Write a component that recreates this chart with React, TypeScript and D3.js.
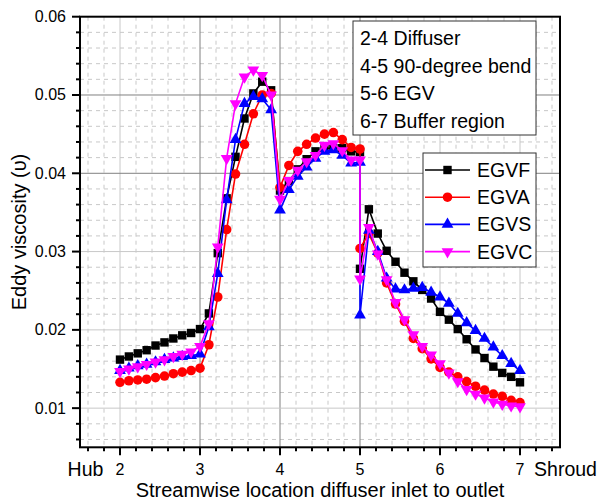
import React from "react";
import * as d3 from "d3";

const xPositions = [2, 2.111, 2.222, 2.333, 2.444, 2.556, 2.667, 2.778, 2.889, 3,
  3.111, 3.222, 3.333, 3.444, 3.556, 3.667, 3.778, 3.889, 4,
  4.111, 4.222, 4.333, 4.444, 4.556, 4.667, 4.778, 4.889, 5, 5,
  5.111, 5.222, 5.333, 5.444, 5.556, 5.667, 5.778, 5.889, 6,
  6.111, 6.222, 6.333, 6.444, 6.556, 6.667, 6.778, 6.889, 7];

const egvf = [0.0162, 0.0166, 0.0170, 0.0174, 0.0180, 0.0184, 0.0189, 0.0193, 0.0196, 0.0201,
  0.0221, 0.0298, 0.0368, 0.0421, 0.0470, 0.0502, 0.0517, 0.0506, 0.0378,
  0.0390, 0.0405, 0.0418, 0.0428, 0.0432, 0.0432, 0.0432, 0.0428, 0.0427, 0.0278,
  0.0354, 0.0323, 0.0301, 0.0287, 0.0273, 0.0262, 0.0251, 0.0240, 0.0223,
  0.0213, 0.0201, 0.0188, 0.0175, 0.0164, 0.0153, 0.0145, 0.0140, 0.0133];

const egva = [0.0133, 0.0135, 0.0136, 0.0137, 0.0139, 0.0141, 0.0144, 0.0146, 0.0148, 0.0151,
  0.0181, 0.0242, 0.0328, 0.0399, 0.0437, 0.0476, 0.0500, 0.0502, 0.0382,
  0.0410, 0.0428, 0.0437, 0.0445, 0.0450, 0.0452, 0.0443, 0.0433, 0.0431, 0.0304,
  0.0323, 0.0298, 0.0260, 0.0233, 0.0211, 0.0189, 0.0176, 0.0163, 0.0152,
  0.0146, 0.0140, 0.0134, 0.0128, 0.0123, 0.0118, 0.0115, 0.0110, 0.0107];

const egvs = [0.0148, 0.0151, 0.0154, 0.0156, 0.0159, 0.0162, 0.0164, 0.0166, 0.0167, 0.0169,
  0.0204, 0.0272, 0.0366, 0.0443, 0.0489, 0.0498, 0.0495, 0.0481, 0.0353,
  0.0379, 0.0396, 0.0408, 0.0419, 0.0428, 0.0430, 0.0423, 0.0413, 0.0414, 0.0219,
  0.0327, 0.0300, 0.0266, 0.0252, 0.0251, 0.0253, 0.0254, 0.0248, 0.0242,
  0.0234, 0.0221, 0.0209, 0.0199, 0.0189, 0.0178, 0.0167, 0.0157, 0.0148];

const egvc = [0.0147, 0.0150, 0.0153, 0.0156, 0.0159, 0.0162, 0.0166, 0.0169, 0.0172, 0.0179,
  0.0208, 0.0306, 0.0419, 0.0489, 0.0523, 0.0532, 0.0525, 0.0500, 0.0367,
  0.0391, 0.0404, 0.0415, 0.0423, 0.0436, 0.0438, 0.0429, 0.0417, 0.0417, 0.0265,
  0.0331, 0.0297, 0.0264, 0.0235, 0.0213, 0.0194, 0.0179, 0.0168, 0.0157,
  0.0145, 0.0134, 0.0124, 0.0118, 0.0113, 0.0108, 0.0105, 0.0103, 0.0102];

const seriesNames = ["EGVF", "EGVA", "EGVS", "EGVC"];
const seriesColors = ["#000000", "#ff0000", "#0000ff", "#ff00ff"];
const seriesShapes = ["square", "circle", "up", "down"];
const seriesValues = [egvf, egva, egvs, egvc];

const xMajorTicks = [2, 3, 4, 5, 6, 7];
const yMajorTicks = [0.01, 0.02, 0.03, 0.04, 0.05, 0.06];
const regionNotes = ["2-4 Diffuser", "4-5 90-degree bend", "5-6 EGV", "6-7 Buffer region"];

const FONT = "Arial, 'Liberation Sans', sans-serif";

const W = 599, H = 504;
const left = 80, right = 560, top = 16.7, bottom = 447.3;

const x = d3.scaleLinear().domain([1.5, 7.5]).range([left, right]);
const y = d3.scaleLinear().domain([0.005, 0.06]).range([bottom, top]);

const darkX = [3, 4, 5];
const darkY = [0.04, 0.05];

function Marker({ shape, cx, cy, color }: { shape: string; cx: number; cy: number; color: string }) {
  if (shape === "square") return <rect x={cx - 4.2} y={cy - 4.2} width={8.4} height={8.4} fill={color} />;
  if (shape === "circle") return <circle cx={cx} cy={cy} r={4.8} fill={color} />;
  const p = d3.symbol().type(d3.symbolTriangle).size(60)() as string;
  const rot = shape === "down" ? 180 : 0;
  return <path d={p} fill={color} transform={`translate(${cx},${cy}) rotate(${rot})`} />;
}

export default function App() {
  const xMinor = d3.range(16, 75, 2).map((v) => v / 10).filter((v) => !xMajorTicks.includes(v));
  const yMinor = d3.range(6, 60, 2).map((v) => v / 1000).filter((v) => Math.abs(v * 100 - Math.round(v * 100)) > 1e-6);
  const line = d3.line<number>().x((_, i) => x(xPositions[i])).y((d) => y(d));

  return (
    <svg width={W} height={H} style={{ position: "absolute", left: 0, top: 0, background: "#fff" }} fontFamily={FONT}>
      <rect x={0} y={0} width={W} height={H} fill="#fff" />
      {/* minor grid */}
      {xMinor.map((v) => (
        <line key={"xm" + v} x1={x(v)} x2={x(v)} y1={top} y2={bottom} stroke="#c8c8c8" strokeWidth={1} strokeDasharray="4,4" />
      ))}
      {yMinor.map((v) => (
        <line key={"ym" + v} x1={left} x2={right} y1={y(v)} y2={y(v)} stroke="#c8c8c8" strokeWidth={1} strokeDasharray="4,4" />
      ))}
      {/* major grid */}
      {xMajorTicks.map((v) => (
        <line key={"xg" + v} x1={x(v)} x2={x(v)} y1={top} y2={bottom} stroke={darkX.includes(v) ? "#808080" : "#c8c8c8"} strokeWidth={1} />
      ))}
      {yMajorTicks.slice(0, 5).map((v) => (
        <line key={"yg" + v} x1={left} x2={right} y1={y(v)} y2={y(v)} stroke={darkY.includes(v) ? "#808080" : "#c8c8c8"} strokeWidth={1} />
      ))}

      {/* series */}
      {seriesValues.map((vals, s) => (
        <g key={seriesNames[s]}>
          <path d={line(vals) as string} fill="none" stroke={seriesColors[s]} strokeWidth={1.6} />
          {vals.map((v, i) => (
            <Marker key={i} shape={seriesShapes[s]} cx={x(xPositions[i])} cy={y(v)} color={seriesColors[s]} />
          ))}
        </g>
      ))}

      {/* region notes box */}
      <rect x={353} y={21} width={183} height={114} fill="#fff" stroke="#333" strokeWidth={1} />
      {regionNotes.map((t, i) => (
        <text key={t} x={360} y={45 + i * 27.5} fontSize={19.5} fill="#000">{t}</text>
      ))}

      {/* legend */}
      <rect x={423} y={153} width={113} height={114} fill="#fff" stroke="#333" strokeWidth={1} />
      {seriesNames.map((n, i) => {
        const cy = 170 + i * 27.2;
        return (
          <g key={n}>
            <line x1={425} x2={470} y1={cy} y2={cy} stroke={seriesColors[i]} strokeWidth={1.6} />
            <Marker shape={seriesShapes[i]} cx={447.5} cy={cy} color={seriesColors[i]} />
            <text x={477} y={cy + 7} fontSize={19.5} fill="#000">{n}</text>
          </g>
        );
      })}

      {/* frame */}
      <rect x={left} y={top} width={right - left} height={bottom - top} fill="none" stroke="#000" strokeWidth={2} />

      {/* y ticks */}
      {yMajorTicks.map((v) => (
        <g key={"yt" + v}>
          <line x1={left - 8} x2={left} y1={y(v)} y2={y(v)} stroke="#000" strokeWidth={2} />
          <text x={66} y={y(v) + 5.5} fontSize={16} textAnchor="end">{v.toFixed(2)}</text>
        </g>
      ))}
      {yMinor.map((v) => (
        <line key={"ytm" + v} x1={left - 4} x2={left} y1={y(v)} y2={y(v)} stroke="#000" strokeWidth={2} />
      ))}
      {/* x ticks */}
      {xMajorTicks.map((v) => (
        <g key={"xt" + v}>
          <line x1={x(v)} x2={x(v)} y1={bottom} y2={bottom + 8} stroke="#000" strokeWidth={2} />
          <text x={x(v)} y={475} fontSize={16} textAnchor="middle">{v}</text>
        </g>
      ))}
      {xMinor.map((v) => (
        <line key={"xtm" + v} x1={x(v)} x2={x(v)} y1={bottom} y2={bottom + 4} stroke="#000" strokeWidth={2} />
      ))}
      <text x={85.5} y={476} fontSize={19.5} textAnchor="middle">Hub</text>
      <text x={565.5} y={476} fontSize={19.5} textAnchor="middle">Shroud</text>

      {/* axis titles */}
      <text x={(left + right) / 2} y={497} fontSize={20} textAnchor="middle">Streamwise location diffuser inlet to outlet</text>
      <text transform={`translate(26,${(top + bottom) / 2}) rotate(-90)`} fontSize={20} textAnchor="middle">Eddy viscosity (υ)</text>
    </svg>
  );
}
